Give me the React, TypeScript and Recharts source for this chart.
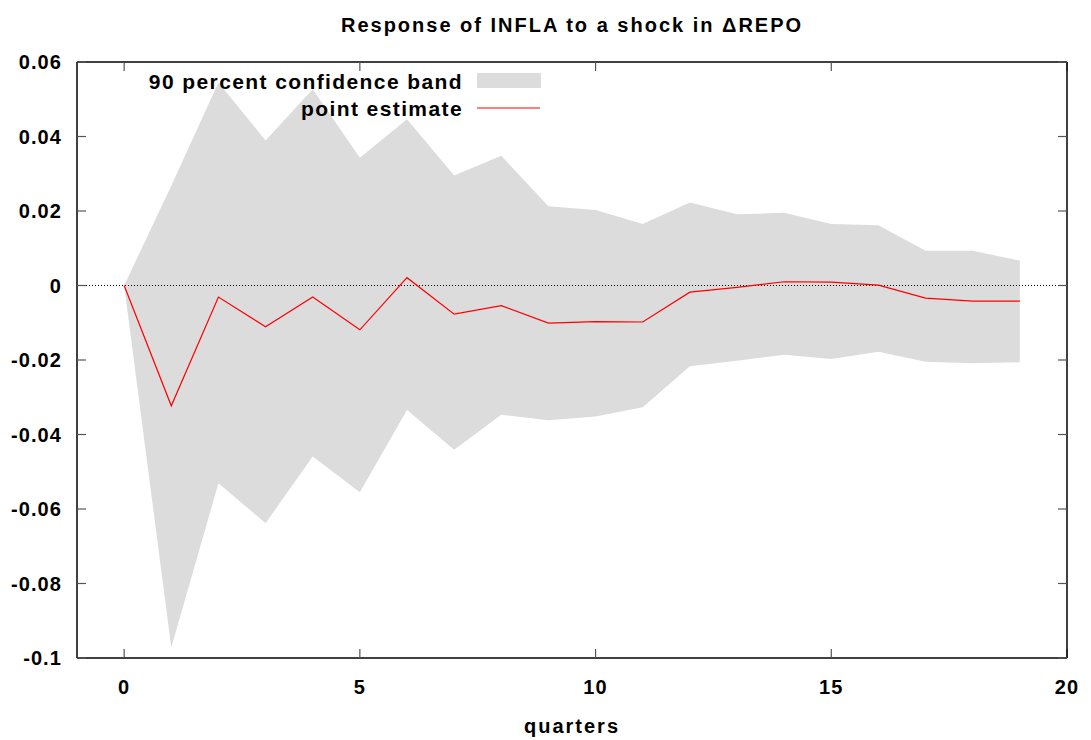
import React from "react";
import {
  ComposedChart,
  Area,
  Line,
  XAxis,
  YAxis,
  ReferenceLine,
} from "recharts";

const quarters = [0, 1, 2, 3, 4, 5, 6, 7, 8, 9, 10, 11, 12, 13, 14, 15, 16, 17, 18, 19];
const pointEstimate = [
  0, -0.0323, -0.0031, -0.0111, -0.0031, -0.0119, 0.0021, -0.0077, -0.0054, -0.0101,
  -0.0097, -0.0098, -0.0018, -0.0005, 0.001, 0.0009, 0.0001, -0.0034, -0.0042, -0.0042,
];
const upperBand = [
  0, 0.0268, 0.0545, 0.0389, 0.0527, 0.0343, 0.0446, 0.0295, 0.0348, 0.0213,
  0.0203, 0.0165, 0.0223, 0.0191, 0.0195, 0.0165, 0.0162, 0.0093, 0.0093, 0.0067,
];
const lowerBand = [
  0, -0.0972, -0.0531, -0.0638, -0.0459, -0.0555, -0.0334, -0.0441, -0.0347, -0.0362,
  -0.0352, -0.0327, -0.0217, -0.0202, -0.0186, -0.0197, -0.0178, -0.0205, -0.0209, -0.0206,
];
const xTicks = [0, 5, 10, 15, 20];
const yTicks = [-0.1, -0.08, -0.06, -0.04, -0.02, 0, 0.02, 0.04, 0.06];

const data = quarters.map((q, i) => ({
  q,
  est: pointEstimate[i],
  band: [lowerBand[i], upperBand[i]],
}));

const FONT = "'Liberation Sans', Arial, Helvetica, sans-serif";
const tickStyle = { fontFamily: FONT, fontWeight: 700, fontSize: 20, fill: "#000", letterSpacing: 1.1 };
const blank = () => "";
const frame = { stroke: "#000", strokeWidth: 1.5 };
const tickMark = { stroke: "#555", strokeWidth: 1.2 };

export default function App() {
  return (
    <div style={{ position: "absolute", left: 0, top: 0, width: 1091, height: 740, background: "#fff" }}>
      <ComposedChart
        width={1091}
        height={740}
        data={data}
        margin={{ top: 61, right: 23, left: 0, bottom: 0 }}
      >
        <XAxis
          dataKey="q"
          type="number"
          domain={[-1, 20]}
          ticks={xTicks}
          height={82}
          tickSize={-9}
          tickMargin={31}
          tick={tickStyle}
          axisLine={frame}
          tickLine={tickMark}
          label={{
            value: "quarters",
            position: "insideBottom",
            offset: 7,
            style: { ...tickStyle, letterSpacing: 2 },
          }}
        />
        <XAxis
          xAxisId="top"
          dataKey="q"
          orientation="top"
          type="number"
          domain={[-1, 20]}
          ticks={xTicks}
          height={1}
          tickSize={-9}
          tickFormatter={blank}
          axisLine={frame}
          tickLine={tickMark}
        />
        <YAxis
          type="number"
          domain={[-0.1, 0.06]}
          ticks={yTicks}
          width={77}
          tickSize={-9}
          tickMargin={24}
          tick={tickStyle}
          axisLine={frame}
          tickLine={tickMark}
        />
        <YAxis
          yAxisId="right"
          orientation="right"
          type="number"
          domain={[-0.1, 0.06]}
          ticks={yTicks}
          width={1}
          tickSize={-9}
          tickFormatter={blank}
          axisLine={frame}
          tickLine={tickMark}
        />
        <Area
          type="linear"
          dataKey="band"
          fill="#dcdcdc"
          fillOpacity={1}
          stroke="none"
          isAnimationActive={false}
        />
        <ReferenceLine y={0} stroke="#000" strokeWidth={1} strokeDasharray="1 2" />
        <Line
          type="linear"
          dataKey="est"
          stroke="#ff0000"
          strokeWidth={1.2}
          dot={false}
          activeDot={false}
          isAnimationActive={false}
        />
        {/* invisible series so the mirrored top/right axes get drawn */}
        <Line
          xAxisId="top"
          yAxisId="right"
          type="linear"
          dataKey="est"
          stroke="none"
          dot={false}
          activeDot={false}
          legendType="none"
          isAnimationActive={false}
        />
      </ComposedChart>
      {/* title and key drawn on top of the plot */}
      <svg
        width={1091}
        height={740}
        style={{ position: "absolute", left: 0, top: 0, pointerEvents: "none" }}
      >
        <text
          x={572}
          y={32}
          textAnchor="middle"
          style={{ ...tickStyle, letterSpacing: 2 }}
        >
          Response of INFLA to a shock in ΔREPO
        </text>
        <g style={{ ...tickStyle, fontSize: 21, letterSpacing: 1.4 }}>
          <text x={463} y={89} textAnchor="end">90 percent confidence band</text>
          <text x={463} y={116} textAnchor="end">point estimate</text>
        </g>
        <rect x={477} y={73} width={64} height={15} fill="#dcdcdc" />
        <line x1={477} y1={108} x2={540} y2={108} stroke="#ff0000" strokeWidth={1.2} />
      </svg>
    </div>
  );
}
